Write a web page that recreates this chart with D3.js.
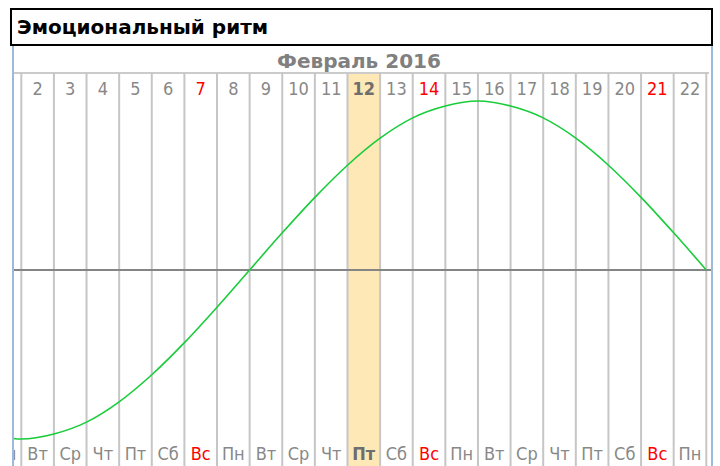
<!DOCTYPE html>
<html lang="ru">
<head>
  <meta charset="UTF-8">
  <title>Эмоциональный ритм</title>
  <style>
    body { margin: 0; background: #fff; }
    svg { display: block; font-family: "DejaVu Sans Condensed", "DejaVu Sans", sans-serif; }
  </style>
</head>
<body>
  <svg id="chart" width="720" height="466"></svg>

  <script src="https://d3js.org/d3.v7.min.js"></script>
  <script>
    const title = "Эмоциональный ритм";
    const monthLabel = "Февраль 2016";

    // days shown (1 and 23 are cut at the edges)
    const days = [1, 2, 3, 4, 5, 6, 7, 8, 9, 10, 11, 12, 13, 14, 15, 16, 17, 18, 19, 20, 21, 22, 23];
    const weekdays = ["Пн", "Вт", "Ср", "Чт", "Пт", "Сб", "Вс", "Пн", "Вт", "Ср", "Чт", "Пт",
                      "Сб", "Вс", "Пн", "Вт", "Ср", "Чт", "Пт", "Сб", "Вс", "Пн", "Вт"];
    const sundays = [7, 14, 21];
    const today = 12;

    // rhythm value (%) at the start of each day
    const rhythmDays = [1, 2, 3, 4, 5, 6, 7, 8, 9, 10, 11, 12, 13, 14, 15, 16, 17, 18, 19, 20, 21, 22, 23];
    const rhythm = [-97, -100, -97, -90, -78, -62, -43, -22, 0, 22, 43, 62, 78, 90, 97, 100, 97, 90, 78, 62, 43, 22, 0];

    const svg = d3.select("#chart");
    const plotL = 13, plotR = 712, rowTop = 73, plotB = 466;

    const x = d3.scaleLinear().domain([2, 23]).range([21.3, 706.3]);
    const y = d3.scaleLinear().domain([-100, 100]).range([439, 101]);

    const defs = svg.append("defs");
    defs.append("clipPath").attr("id", "plot")
      .append("rect").attr("x", plotL).attr("y", 46).attr("width", plotR - plotL).attr("height", plotB - 46);

    // title box
    svg.append("rect")
      .attr("x", 11).attr("y", 9).attr("width", 701).attr("height", 36)
      .attr("fill", "#fff").attr("stroke", "#000").attr("stroke-width", 2);
    svg.append("text")
      .attr("x", 17).attr("y", 34)
      .attr("font-family", "'DejaVu Sans', sans-serif")
      .attr("font-weight", "bold").attr("font-size", 20)
      .attr("fill", "#000")
      .text(title);

    const g = svg.append("g").attr("clip-path", "url(#plot)");

    // month label
    g.append("text")
      .attr("x", 359).attr("y", 68)
      .attr("text-anchor", "middle")
      .attr("font-family", "'DejaVu Sans', sans-serif")
      .attr("font-weight", "bold").attr("font-size", 20)
      .attr("fill", "#808080")
      .text(monthLabel);

    // highlighted current day
    g.append("rect")
      .attr("x", x(today)).attr("y", rowTop)
      .attr("width", x(today + 1) - x(today)).attr("height", plotB - rowTop)
      .attr("fill", "#fde8b6");

    // top line of the day row
    g.append("line")
      .attr("x1", plotL).attr("x2", plotR - 3)
      .attr("y1", rowTop).attr("y2", rowTop)
      .attr("stroke", "#cbcbcb").attr("stroke-width", 2);

    // day grid
    g.append("g")
      .selectAll("line")
      .data(days)
      .join("line")
      .attr("x1", d => x(d)).attr("x2", d => x(d))
      .attr("y1", rowTop).attr("y2", plotB)
      .attr("stroke", "#c6c6c6").attr("stroke-width", 2);

    // zero line
    g.append("line")
      .attr("x1", plotL).attr("x2", plotR)
      .attr("y1", y(0)).attr("y2", y(0))
      .attr("stroke", "#858585").attr("stroke-width", 2);

    const dayColor = d => sundays.includes(d) ? "#ff0000" : (d === today ? "#6e6e6e" : "#888");

    // day numbers
    g.append("g")
      .selectAll("text")
      .data(days)
      .join("text")
      .attr("x", d => (x(d) + x(d + 1)) / 2)
      .attr("y", 95)
      .attr("text-anchor", "middle")
      .attr("font-size", 18)
      .attr("font-weight", d => d === today ? "bold" : "normal")
      .attr("fill", dayColor)
      .text(d => d);

    // weekday names
    g.append("g")
      .selectAll("text")
      .data(days)
      .join("text")
      .attr("x", d => (x(d) + x(d + 1)) / 2)
      .attr("y", 460)
      .attr("text-anchor", "middle")
      .attr("font-size", 18)
      .attr("font-weight", d => d === today ? "bold" : "normal")
      .attr("fill", dayColor)
      .text((d, i) => weekdays[i]);

    // rhythm curve
    const line = d3.line()
      .x((d, i) => x(rhythmDays[i]))
      .y(d => y(d))
      .curve(d3.curveMonotoneX);
    g.append("path")
      .datum(rhythm)
      .attr("d", line)
      .attr("fill", "none")
      .attr("stroke", "#19cc3a")
      .attr("stroke-width", 1.6);

    // side borders
    svg.append("g")
      .selectAll("line")
      .data([plotL, plotR])
      .join("line")
      .attr("x1", d => d).attr("x2", d => d)
      .attr("y1", 46).attr("y2", plotB)
      .attr("stroke", "#9db9dc").attr("stroke-width", 2);
  </script>
</body>
</html>
